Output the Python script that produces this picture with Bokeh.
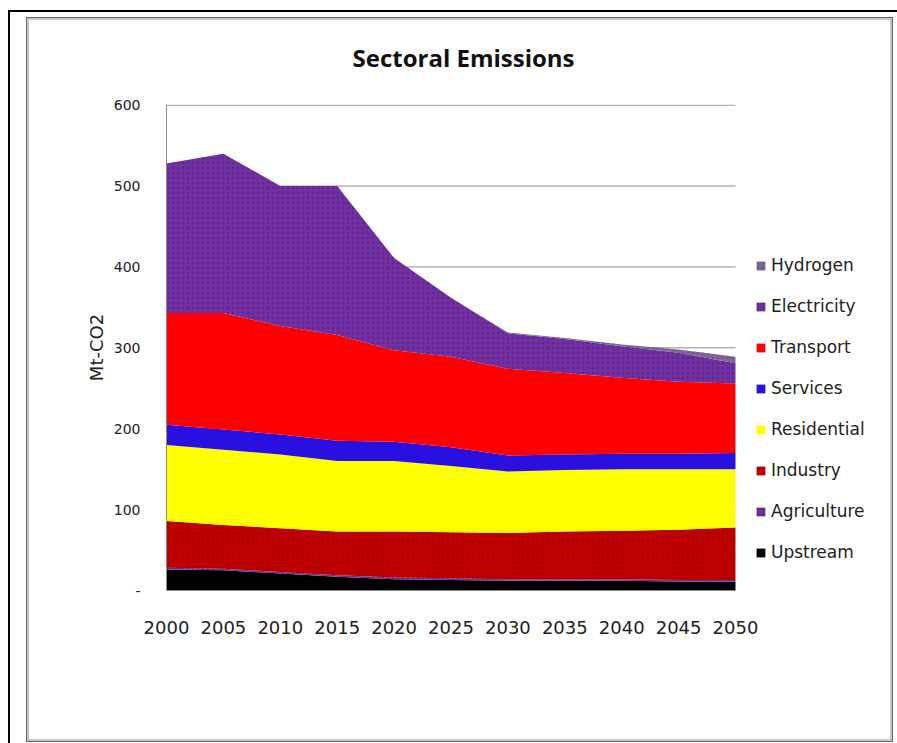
from bokeh.plotting import figure
from bokeh.models import (ColumnDataSource, Range1d, FixedTicker, Legend, LegendItem,
                          InlineStyleSheet)
from bokeh.embed import file_html
from bokeh.resources import INLINE

years = [2000, 2005, 2010, 2015, 2020, 2025, 2030, 2035, 2040, 2045, 2050]
upstream    = [26, 25, 21, 17, 14, 13, 12, 12, 12, 11, 11]
agriculture = [2, 2, 2, 2, 2, 2, 2, 2, 2, 2, 2]
industry    = [58, 54, 54, 54, 57, 57, 57, 59, 60, 62, 65]
residential = [94, 93, 91, 87, 87, 82, 76, 76, 76, 75, 72]
services    = [25, 25, 25, 25, 24, 23, 20, 19, 19, 19, 20]
transport   = [138, 144, 134, 131, 113, 112, 107, 101, 94, 89, 86]
electricity = [185, 197, 173, 184, 114, 73, 44, 42, 39, 36, 25]
hydrogen    = [0, 0, 0, 0, 0, 0, 1, 1, 2, 4, 8]

sectors = ["Upstream", "Agriculture", "Industry", "Residential",
           "Services", "Transport", "Electricity", "Hydrogen"]
values = [upstream, agriculture, industry, residential,
          services, transport, electricity, hydrogen]
colors = ["#000000", "#7030A0", "#C00000", "#FFFF00",
          "#2A10E0", "#FF0000", "#7030A0", "#7D6699"]
hatch_colors = [None, "#4E1478", "#8E0000", None, None, None, "#52167E", "#5E4C7A"]

y_ticks = [0, 100, 200, 300, 400, 500, 600]

data = {"year": years}
for s, v in zip(sectors, values):
    data[s] = v
source = ColumnDataSource(data)

W, H = 897, 743
FL, FR, FT, FB = 166, 735, 104, 590     # pixel box of the 2000..2050 / 0..600 area
FR_EXT = 890                            # frame extended right so the legend fits inside
x0, x1 = years[0], years[-1]
x_end = x1 + (FR_EXT - FR) / (FR - FL) * (x1 - x0)

frame_css = InlineStyleSheet(css="""
:host { position: relative; }
:host::before {
  content: ""; position: absolute; left: 8px; top: 10px; right: -10px; bottom: -10px;
  border-left: 2.5px solid #000; border-top: 2.5px solid #000;
  pointer-events: none; z-index: 10;
}
:host::after {
  content: ""; position: absolute; left: 26px; top: 17px; width: 865px; height: 723px;
  border: 1px solid #666; box-shadow: inset 0 0 0 2px #c6c6c6;
  pointer-events: none; z-index: 10;
}
""")

p = figure(width=W, height=H, output_backend="svg", toolbar_location=None,
           x_range=Range1d(x0, x_end), y_range=Range1d(0, 600.8),
           min_border_left=FL, min_border_right=W - FR_EXT,
           min_border_top=FT, min_border_bottom=H - FB,
           title="Sectoral Emissions")
p.stylesheets = [frame_css]
p.outline_line_color = None
p.background_fill_color = "white"
p.border_fill_color = "white"

p.title.align = "left"
p.title.offset = 352 - FL
p.title.standoff = 62
p.title.text_font = "Open Sans"
p.title.text_font_style = "bold"
p.title.text_font_size = "24px"
p.title.text_color = "#111111"

# horizontal gridlines limited to the category span
p.segment(x0=[x0] * len(y_ticks), x1=[x1] * len(y_ticks), y0=y_ticks, y1=y_ticks,
          line_color="#8c8c8c", line_width=1)

renderers = p.varea_stack(sectors, x="year", source=source, color=colors)
for r, hc in zip(renderers, hatch_colors):
    if hc:
        r.glyph.hatch_pattern = "dot"
        r.glyph.hatch_color = hc
        r.glyph.hatch_scale = 5
        r.glyph.hatch_weight = 1
        r.glyph.hatch_alpha = 0.45

p.xgrid.visible = False
p.ygrid.visible = False

# axes
p.yaxis.ticker = FixedTicker(ticks=y_ticks)
p.yaxis.major_label_overrides = {0: "-"}
p.yaxis.axis_line_color = "#8c8c8c"
p.yaxis.major_tick_line_color = None
p.yaxis.minor_tick_line_color = None
p.yaxis.major_tick_out = 0
p.yaxis.major_tick_in = 0
p.yaxis.major_label_standoff = 26
p.yaxis.major_label_text_font = "DejaVu Sans"
p.yaxis.major_label_text_font_size = "14px"
p.yaxis.major_label_text_color = "#222222"
p.yaxis.axis_label = "Mt-CO2"
p.yaxis.axis_label_text_font = "DejaVu Sans"
p.yaxis.axis_label_text_font_size = "18px"
p.yaxis.axis_label_text_font_style = "normal"
p.yaxis.axis_label_text_color = "#222222"
p.yaxis.axis_label_standoff = 4

p.xaxis.ticker = FixedTicker(ticks=years)
p.xaxis.bounds = (x0, x1)
p.xaxis.axis_line_color = "#8c8c8c"
p.xaxis.major_tick_line_color = None
p.xaxis.minor_tick_line_color = None
p.xaxis.major_tick_out = 0
p.xaxis.major_tick_in = 0
p.xaxis.major_label_standoff = 30
p.xaxis.major_label_text_font = "DejaVu Sans"
p.xaxis.major_label_text_font_size = "18px"
p.xaxis.major_label_text_color = "#222222"

# legend
items = [LegendItem(label=s, renderers=[r]) for s, r in zip(sectors, renderers)][::-1]
legend = Legend(items=items, location=(755 - FL, FB - 562), orientation="vertical",
                glyph_width=11, glyph_height=11, label_height=20, spacing=21,
                label_standoff=5, padding=0, margin=0,
                border_line_color=None, background_fill_alpha=0,
                label_text_font="DejaVu Sans", label_text_font_size="17px",
                label_text_color="#222222")
p.add_layout(legend, "center")

open("out.html", "w").write(file_html(p, INLINE))
